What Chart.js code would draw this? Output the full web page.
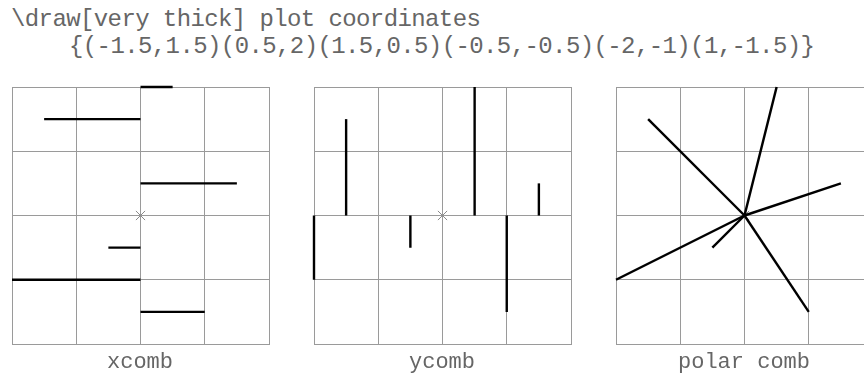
<!DOCTYPE html>
<html>
<head>
<meta charset="utf-8">
<script src="https://cdn.jsdelivr.net/npm/chart.js@4.4.1/dist/chart.umd.min.js"></script>
<style>
  html, body { margin: 0; padding: 0; background: #fff; overflow: hidden; width: 864px; height: 374px; }
  .tt { position: absolute; font-family: 'Liberation Mono', monospace; color: #666; white-space: pre; }
  .head { font-size: 24px; letter-spacing: -0.6px; line-height: 24px; }
  .lbl { font-size: 22px; letter-spacing: 0; line-height: 22px; width: 200px; text-align: center; }
  canvas { position: absolute; }
</style>
</head>
<body>
<div class="tt head" style="left:11px; top:8px;">\draw[very thick] plot coordinates</div>
<div class="tt head" style="left:69px; top:35px;">{(-1.5,1.5)(0.5,2)(1.5,0.5)(-0.5,-0.5)(-2,-1)(1,-1.5)}</div>

<canvas id="c0" width="273" height="273" style="left:4px; top:79px;"></canvas>
<canvas id="c1" width="273" height="273" style="left:306px; top:79px;"></canvas>
<canvas id="c2" width="273" height="273" style="left:608px; top:79px;"></canvas>

<div class="tt lbl" style="left:40px; top:352px;">xcomb</div>
<div class="tt lbl" style="left:342px; top:352px;">ycomb</div>
<div class="tt lbl" style="left:644px; top:352px;">polar comb</div>

<script>
// plot coordinates from the \draw command
const ptsX = [-1.5, 0.5, 1.5, -0.5, -2, 1];
const ptsY = [1.5, 2, 0.5, -0.5, -1, -1.5];

// axis range and grid step
const axisMin = -2;
const axisMax = 2;
const gridStep = 1;

const panelIds = ['c0', 'c1', 'c2'];
const combKinds = ['x', 'y', 'polar'];

const GRID_COLOR = '#9a9a9a';
const LINE_COLOR = '#000';

// one segment per point, start depends on comb type
function combSegments(kind) {
    return ptsX.map((x, i) => {
        const y = ptsY[i];
        let start;
        if (kind === 'x') start = {x: 0, y: y};
        else if (kind === 'y') start = {x: x, y: 0};
        else start = {x: 0, y: 0};
        return [start, {x: x, y: y}];
    });
}

function axis() {
    return {
        type: 'linear',
        min: axisMin,
        max: axisMax,
        ticks: {display: false, stepSize: gridStep},
        grid: {color: GRID_COLOR, lineWidth: 1, drawTicks: false},
        border: {display: true, color: GRID_COLOR, width: 1},
    };
}

panelIds.forEach((id, p) => {
    const segs = combSegments(combKinds[p]);
    const datasets = segs.map(seg => ({
        type: 'line',
        data: seg,
        borderColor: LINE_COLOR,
        borderWidth: 2.4,
        borderCapStyle: 'butt',
        pointRadius: 0,
        showLine: true,
        fill: false,
        clip: false,
        order: 0,
    }));
    // origin marker
    datasets.push({
        type: 'scatter',
        data: [{x: 0, y: 0}],
        pointStyle: 'crossRot',
        pointRadius: 6.5,
        borderColor: '#8a8a8a',
        borderWidth: 1,
        clip: false,
        order: 1,
    });

    new Chart(document.getElementById(id).getContext('2d'), {
        type: 'scatter',
        data: {datasets: datasets},
        options: {
            responsive: false,
            animation: false,
            events: [],
            layout: {padding: 8},
            scales: {x: axis(), y: axis()},
            plugins: {legend: {display: false}, tooltip: {enabled: false}},
        },
    });
});
</script>
</body>
</html>
